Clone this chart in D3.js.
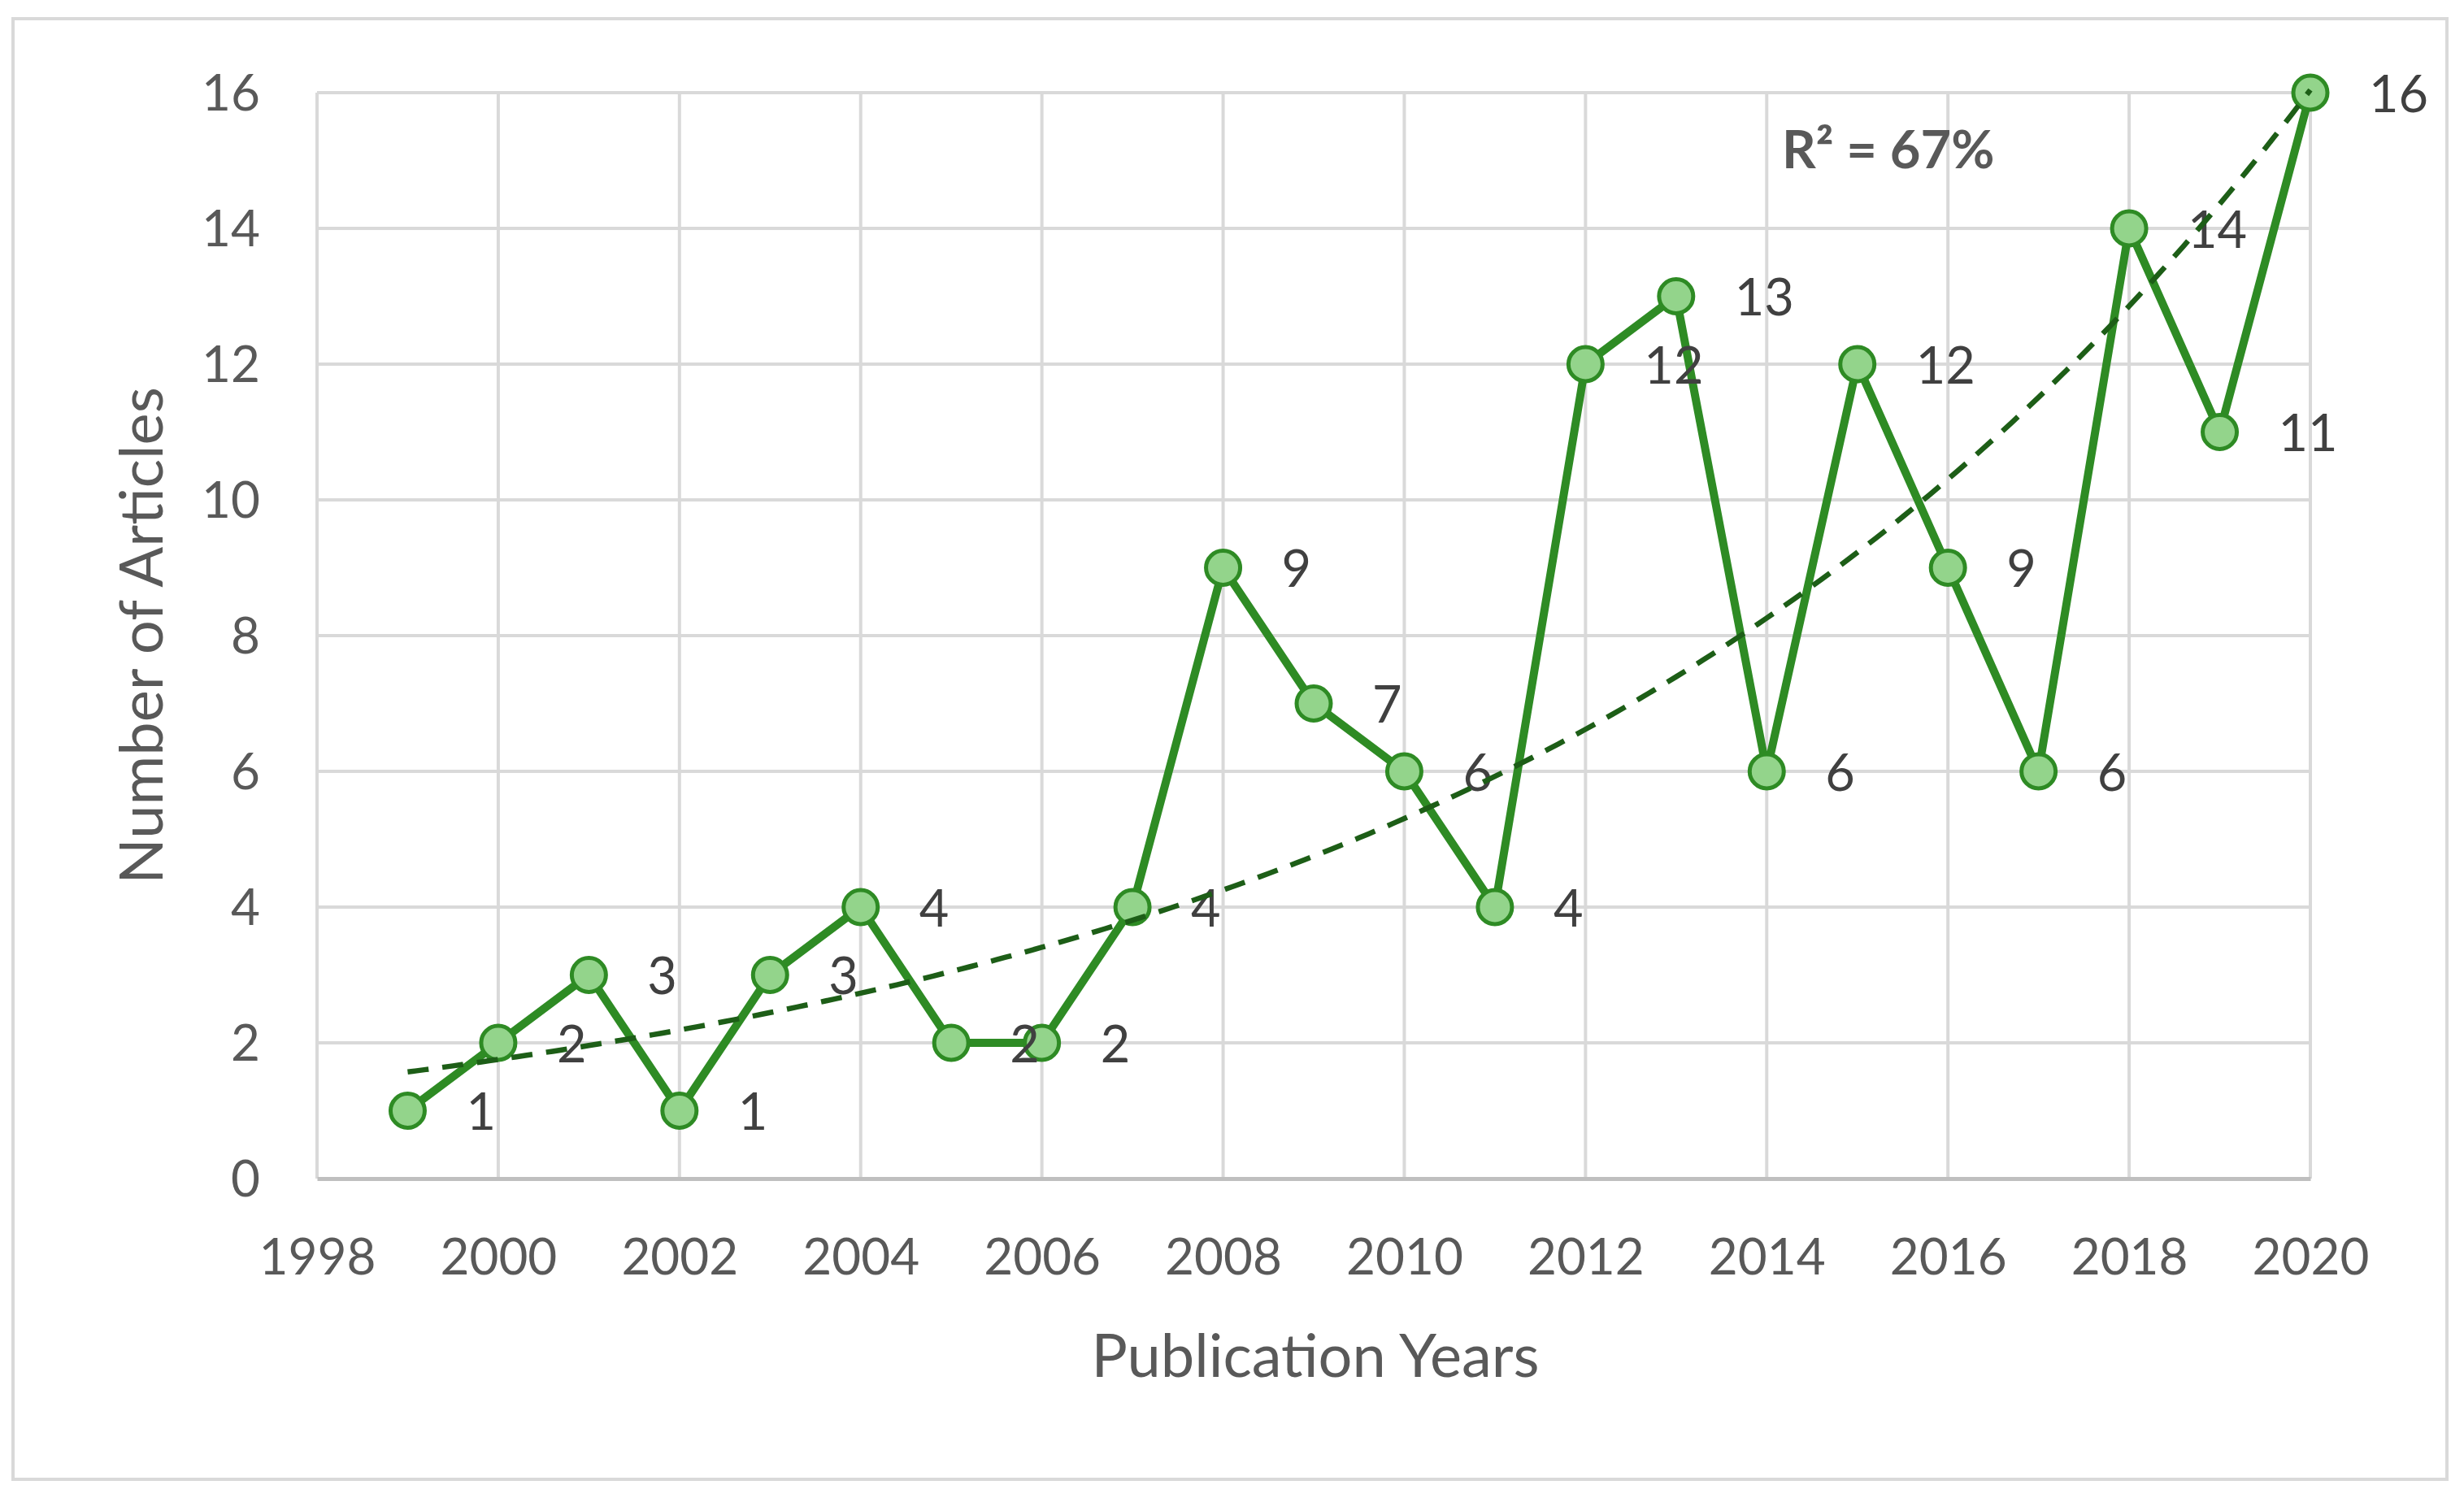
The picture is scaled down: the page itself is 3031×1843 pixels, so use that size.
<!DOCTYPE html>
<html>
<head>
<meta charset="utf-8">
<script src="https://cdn.jsdelivr.net/npm/d3@7"></script>
<style>
  html, body { margin: 0; padding: 0; background: #ffffff; }
  svg { display: block; }
  text { font-family: Lato, "Open Sans", "DejaVu Sans", sans-serif; }
</style>
</head>
<body>
<svg id="chart" width="3031" height="1843"></svg>
<script>
// ---- Data ----
const years = [1999, 2000, 2001, 2002, 2003, 2004, 2005, 2006, 2007, 2008, 2009,
               2010, 2011, 2012, 2013, 2014, 2015, 2016, 2017, 2018, 2019, 2020];
const articles = [1, 2, 3, 1, 3, 4, 2, 2, 4, 9, 7, 6, 4, 12, 13, 6, 12, 9, 6, 14, 11, 16];
const xTicks = [1998, 2000, 2002, 2004, 2006, 2008, 2010, 2012, 2014, 2016, 2018, 2020];
const yTicks = [0, 2, 4, 6, 8, 10, 12, 14, 16];
const xTitle = "Publication Years";
const yTitle = "Number of Articles";
const r2Label = "R² = 67%";

// ---- Layout ----
const W = 3031, H = 1843;
const plot = { left: 390, right: 2842, top: 114, bottom: 1450 };

const svg = d3.select("#chart");

svg.append("rect").attr("x", 0).attr("y", 0).attr("width", W).attr("height", H).attr("fill", "#ffffff");
// outer chart border
svg.append("rect")
  .attr("x", 16).attr("y", 23).attr("width", 2994).attr("height", 1797)
  .attr("fill", "#ffffff").attr("stroke", "#d9d9d9").attr("stroke-width", 4);

const x = d3.scaleLinear().domain([1998, 2020]).range([plot.left, plot.right]);
const y = d3.scaleLinear().domain([0, 16]).range([plot.bottom, plot.top]);

// gridlines
const grid = svg.append("g");
grid.selectAll("line.h").data(yTicks.filter(d => d !== 0)).join("line")
  .attr("x1", plot.left).attr("x2", plot.right)
  .attr("y1", d => y(d)).attr("y2", d => y(d))
  .attr("stroke", "#d9d9d9").attr("stroke-width", 4);
grid.selectAll("line.v").data(xTicks).join("line")
  .attr("x1", d => x(d)).attr("x2", d => x(d))
  .attr("y1", plot.top).attr("y2", plot.bottom)
  .attr("stroke", "#d9d9d9").attr("stroke-width", 4);

// x axis
const xAxis = d3.axisBottom(x).tickValues(xTicks).tickFormat(d3.format("d")).tickSize(0).tickPadding(0);
const gx = svg.append("g").attr("transform", `translate(0,${plot.bottom})`).call(xAxis);
gx.select(".domain").attr("stroke", "#bfbfbf").attr("stroke-width", 5);
gx.selectAll("text")
  .attr("y", 96).attr("dy", "0.35em")
  .attr("font-size", 62).attr("fill", "#595959");

// y axis
const yAxis = d3.axisLeft(y).tickValues(yTicks).tickSize(0).tickPadding(0);
const gy = svg.append("g").attr("transform", `translate(${plot.left},0)`).call(yAxis);
gy.select(".domain").remove();
gy.selectAll("text")
  .attr("x", -70).attr("dy", "0.35em")
  .attr("font-size", 62).attr("fill", "#595959");

// series line
const pts = years.map((yr, i) => ({ yr, v: articles[i] }));
const line = d3.line().x(d => x(d.yr)).y(d => y(d.v));
svg.append("path").datum(pts)
  .attr("d", line)
  .attr("fill", "none").attr("stroke", "#2e8b24").attr("stroke-width", 10)
  .attr("stroke-linejoin", "round");

// markers
svg.append("g").selectAll("circle").data(pts).join("circle")
  .attr("cx", d => x(d.yr)).attr("cy", d => y(d.v)).attr("r", 21)
  .attr("fill", "#93d48b").attr("stroke", "#2e8b24").attr("stroke-width", 5);

// data labels
svg.append("g").selectAll("text").data(pts).join("text")
  .attr("x", d => x(d.yr) + 72).attr("y", d => y(d.v))
  .attr("dy", "0.38em")
  .attr("font-size", 63).attr("fill", "#404040")
  .text(d => d.v);

// exponential trendline (least squares on ln y)
const n = years.length;
const lx = years, ly = articles.map(v => Math.log(v));
const mx = d3.mean(lx), my = d3.mean(ly);
const b = d3.sum(lx.map((v, i) => (v - mx) * (ly[i] - my))) / d3.sum(lx.map(v => (v - mx) ** 2));
const a = my - b * mx;
const trendPts = d3.range(years[0], years[n - 1] + 0.0001, 0.1).map(t => ({ yr: t, v: Math.exp(a + b * t) }));
svg.append("path").datum(trendPts)
  .attr("d", line)
  .attr("fill", "none").attr("stroke", "#1d5e17").attr("stroke-width", 6.5)
  .attr("stroke-dasharray", "26,17");

// R² label
svg.append("text")
  .attr("x", 2192).attr("y", 184).attr("dy", "0.35em")
  .attr("font-size", 65).attr("font-weight", "bold").attr("fill", "#595959")
  .text(r2Label);

// axis titles
svg.append("text")
  .attr("x", (plot.left + plot.right) / 2 + 2).attr("y", 1668).attr("dy", "0.35em")
  .attr("text-anchor", "middle").attr("font-size", 74).attr("fill", "#595959")
  .text(xTitle);
svg.append("text")
  .attr("transform", `translate(174,${(plot.top + plot.bottom) / 2 + 0}) rotate(-90)`)
  .attr("dy", "0.35em")
  .attr("text-anchor", "middle").attr("font-size", 74).attr("fill", "#595959")
  .text(yTitle);
</script>
</body>
</html>
